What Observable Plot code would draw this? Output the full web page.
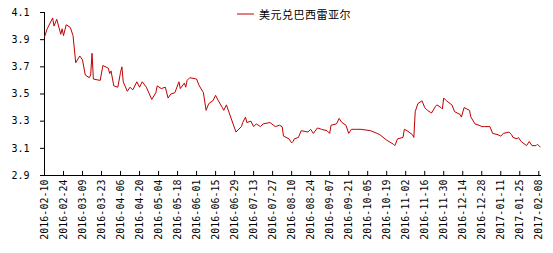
<!DOCTYPE html>
<html><head><meta charset="utf-8">
<script src="https://cdn.jsdelivr.net/npm/d3@7"></script>
<script src="https://cdn.jsdelivr.net/npm/@observablehq/plot@0.6"></script>
<style>
body{margin:0;background:#fff;}
#wrap{position:relative;width:553px;height:253px;}
#legend{position:absolute;left:237px;top:6px;font:11px "Noto Sans CJK SC";letter-spacing:0.5px;display:flex;align-items:center;color:#000;}
#legend svg{margin-right:4px;}
</style></head><body>
<div id="wrap"><div id="legend"><svg width="18" height="4"><line x1="0" x2="17" y1="2" y2="2" stroke="#c00000" stroke-width="1"/></svg><span>美元兑巴西雷亚尔</span></div></div>
<script>
const seriesName = "美元兑巴西雷亚尔";
const dates = [
"2016-02-10","2016-02-12","2016-02-16","2016-02-17","2016-02-19","2016-02-22","2016-02-23","2016-02-24","2016-02-26","2016-02-29",
"2016-03-02","2016-03-04","2016-03-07","2016-03-09","2016-03-11","2016-03-14","2016-03-15","2016-03-16","2016-03-17","2016-03-22",
"2016-03-24","2016-03-28","2016-03-29","2016-03-30","2016-04-01","2016-04-04","2016-04-06","2016-04-07","2016-04-08","2016-04-11",
"2016-04-13","2016-04-15","2016-04-18","2016-04-20","2016-04-22","2016-04-25","2016-04-29","2016-05-02","2016-05-03","2016-05-06",
"2016-05-09","2016-05-11","2016-05-13","2016-05-16","2016-05-19","2016-05-20","2016-05-23","2016-05-24","2016-05-25","2016-05-27",
"2016-06-01","2016-06-03","2016-06-06","2016-06-08","2016-06-10","2016-06-13","2016-06-15","2016-06-17","2016-06-20","2016-06-21",
"2016-06-23","2016-06-24","2016-06-30","2016-07-04","2016-07-05","2016-07-07","2016-07-08","2016-07-11","2016-07-13","2016-07-15",
"2016-07-18","2016-07-20","2016-07-25","2016-07-29","2016-08-01","2016-08-03","2016-08-04","2016-08-08","2016-08-10","2016-08-11",
"2016-08-12","2016-08-15","2016-08-17","2016-08-22","2016-08-24","2016-08-26","2016-08-29","2016-09-01","2016-09-05","2016-09-07",
"2016-09-08","2016-09-12","2016-09-14","2016-09-16","2016-09-19","2016-09-21","2016-09-23","2016-09-27","2016-09-30","2016-10-07",
"2016-10-12","2016-10-14","2016-10-19","2016-10-24","2016-10-25","2016-10-27","2016-10-31","2016-11-01","2016-11-03","2016-11-07",
"2016-11-08","2016-11-09","2016-11-11","2016-11-14","2016-11-16","2016-11-18","2016-11-21","2016-11-24","2016-11-25","2016-11-28",
"2016-11-29","2016-11-30","2016-12-02","2016-12-06","2016-12-08","2016-12-12","2016-12-13","2016-12-15","2016-12-19","2016-12-20",
"2016-12-23","2016-12-26","2016-12-28","2016-12-30","2017-01-03","2017-01-05","2017-01-09","2017-01-11","2017-01-13","2017-01-17",
"2017-01-19","2017-01-20","2017-01-23","2017-01-24","2017-01-26","2017-01-30","2017-02-01","2017-02-03","2017-02-06","2017-02-07",
"2017-02-09"
];
const values = [
3.92,3.98,4.06,4.00,4.05,3.94,3.98,3.93,4.01,3.99,
3.93,3.73,3.78,3.75,3.64,3.62,3.64,3.80,3.61,3.60,
3.71,3.69,3.65,3.67,3.56,3.55,3.66,3.70,3.59,3.52,
3.55,3.53,3.59,3.55,3.59,3.55,3.46,3.51,3.56,3.54,
3.55,3.47,3.50,3.51,3.59,3.54,3.58,3.55,3.60,3.62,
3.61,3.56,3.51,3.38,3.43,3.45,3.49,3.45,3.40,3.38,
3.42,3.39,3.22,3.26,3.29,3.33,3.29,3.30,3.26,3.28,
3.26,3.28,3.29,3.26,3.27,3.26,3.19,3.17,3.14,3.15,
3.17,3.18,3.23,3.22,3.24,3.21,3.25,3.24,3.23,3.21,
3.27,3.28,3.32,3.29,3.27,3.21,3.24,3.24,3.24,3.23,
3.21,3.20,3.16,3.13,3.12,3.17,3.18,3.24,3.23,3.20,
3.18,3.37,3.43,3.45,3.40,3.38,3.36,3.41,3.42,3.40,
3.39,3.47,3.45,3.42,3.37,3.35,3.33,3.40,3.38,3.33,
3.28,3.27,3.26,3.26,3.26,3.21,3.20,3.19,3.21,3.22,
3.20,3.18,3.17,3.18,3.15,3.12,3.15,3.12,3.12,3.13,
3.11
];
const yTicks = [2.9, 3.1, 3.3, 3.5, 3.7, 3.9, 4.1];
const xTickLabels = [
"2016-02-10","2016-02-24","2016-03-09","2016-03-23","2016-04-06","2016-04-20","2016-05-04","2016-05-18","2016-06-01",
"2016-06-15","2016-06-29","2016-07-13","2016-07-27","2016-08-10","2016-08-24","2016-09-07","2016-09-21","2016-10-05",
"2016-10-19","2016-11-02","2016-11-16","2016-11-30","2016-12-14","2016-12-28","2017-01-11","2017-01-25","2017-02-08"
];
const xDomain = ["2016-02-10", "2017-02-10"];

const parse = d3.utcParse("%Y-%m-%d");
const data = dates.map((d, i) => ({date: parse(d), value: values[i], series: seriesName}));
const xTicks = xTickLabels.map(parse);

const chart = Plot.plot({
  width: 553, height: 253,
  marginLeft: 44, marginRight: 12, marginTop: 12, marginBottom: 78,
  style: {background: "#fff", fontFamily: "'DejaVu Sans Mono', monospace", fontSize: "10px", color: "#000"},
  x: {type: "utc", domain: xDomain.map(parse)},
  y: {domain: [yTicks[0], yTicks[yTicks.length - 1]]},
  marks: [
    Plot.axisY({ticks: yTicks, tickSize: 4, tickPadding: 11, tickFormat: d => d.toFixed(1), label: null}),
    Plot.axisX({ticks: xTicks, tickSize: 0, tickPadding: 4, tickRotate: -90, tickFormat: d3.utcFormat("%Y-%m-%d"), label: null}),
    Plot.ruleX(xTicks, {x: d => d, y1: yTicks[0], y2: yTicks[0] + 0.03, stroke: "#000"}),
    Plot.ruleX([parse(xDomain[0])], {stroke: "#000"}),
    Plot.ruleY([yTicks[0]], {stroke: "#000"}),
    Plot.lineY(data, {x: "date", y: "value", stroke: "#c00000", strokeWidth: 1})
  ]
});
document.getElementById("wrap").appendChild(chart);
</script>
</body></html>
